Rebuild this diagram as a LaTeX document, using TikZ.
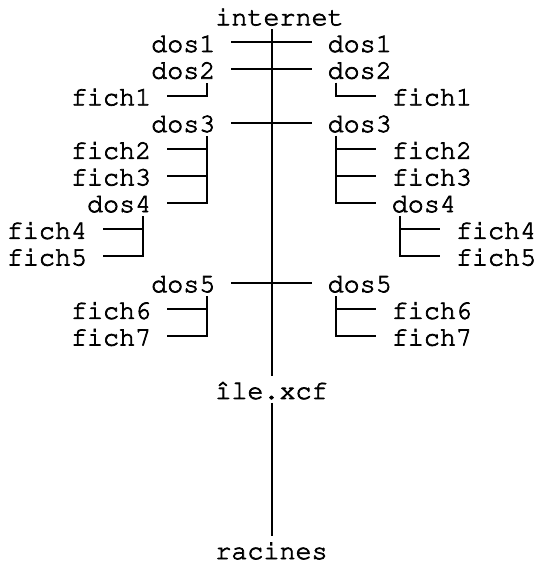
\documentclass[tikz,border=0pt]{standalone}
\usepackage[T1]{fontenc}
\usetikzlibrary{calc}
\newcommand\cl[1]{263.48+16.04*(#1)}
\newcommand\rw[1]{25.3+26.69*(#1)}
\newcommand\treefont{\fontencoding{T1}\fontfamily{pcr}\fontseries{m}\fontshape{n}\fontsize{26.73pt}{26.69pt}\selectfont}
\newcommand\heavy[1]{\special{pdf:literal 2 Tr 0.7 w}#1\special{pdf:literal 0 Tr}}
\tikzset{
  txt/.style={anchor=base west, inner sep=0pt, outer sep=0pt, font=\treefont},
  branch/.style={line width=2pt, line join=miter, black}
}
\begin{document}
\begin{tikzpicture}[x=1pt,y=-1pt]
\useasboundingbox (0,0) rectangle (539,564);
% nodes
\node[txt] (internet) at ({\cl{-3}},{\rw{0}}) {\heavy{internet}};
\node[txt] (dosL1) at ({\cl{-7}},{\rw{1}}) {\heavy{dos1}};
\node[txt] (dosR1) at ({\cl{4}},{\rw{1}}) {\heavy{dos1}};
\node[txt] (dosL2) at ({\cl{-7}},{\rw{2}}) {\heavy{dos2}};
\node[txt] (dosR2) at ({\cl{4}},{\rw{2}}) {\heavy{dos2}};
\node[txt] (fichL1) at ({\cl{-12}},{\rw{3}}) {\heavy{fich1}};
\node[txt] (fichR1) at ({\cl{8}},{\rw{3}}) {\heavy{fich1}};
\node[txt] (dosL3) at ({\cl{-7}},{\rw{4}}) {\heavy{dos3}};
\node[txt] (dosR3) at ({\cl{4}},{\rw{4}}) {\heavy{dos3}};
\node[txt] (fichL2) at ({\cl{-12}},{\rw{5}}) {\heavy{fich2}};
\node[txt] (fichR2) at ({\cl{8}},{\rw{5}}) {\heavy{fich2}};
\node[txt] (fichL3) at ({\cl{-12}},{\rw{6}}) {\heavy{fich3}};
\node[txt] (fichR3) at ({\cl{8}},{\rw{6}}) {\heavy{fich3}};
\node[txt] (dosL4) at ({\cl{-11}},{\rw{7}}) {\heavy{dos4}};
\node[txt] (dosR4) at ({\cl{8}},{\rw{7}}) {\heavy{dos4}};
\node[txt] (fichL4) at ({\cl{-16}},{\rw{8}}) {\heavy{fich4}};
\node[txt] (fichR4) at ({\cl{12}},{\rw{8}}) {\heavy{fich4}};
\node[txt] (fichL5) at ({\cl{-16}},{\rw{9}}) {\heavy{fich5}};
\node[txt] (fichR5) at ({\cl{12}},{\rw{9}}) {\heavy{fich5}};
\node[txt] (dosL5) at ({\cl{-7}},{\rw{10}}) {\heavy{dos5}};
\node[txt] (dosR5) at ({\cl{4}},{\rw{10}}) {\heavy{dos5}};
\node[txt] (fichL6) at ({\cl{-12}},{\rw{11}}) {\heavy{fich6}};
\node[txt] (fichR6) at ({\cl{8}},{\rw{11}}) {\heavy{fich6}};
\node[txt] (fichL7) at ({\cl{-12}},{\rw{12}}) {\heavy{fich7}};
\node[txt] (fichR7) at ({\cl{8}},{\rw{12}}) {\heavy{fich7}};
\node[txt] (ile) at ({\cl{-3}},{\rw{14}}) {\heavy{île.xcf}};
\node[txt] (racines) at ({\cl{-3}},{\rw{20}}) {\heavy{racines}};
% spine
\draw[branch] ($(internet.base west)+(56.14,3.85)$) -- ($(ile.base west)+(56.14,-22.85)$);
\draw[branch] ($(ile.base west)+(56.14,3.85)$) -- ($(racines.base west)+(56.14,-22.85)$);
% central crossings
\foreach \n in {1,2,3,5}{
  \draw[branch] ($(dosL\n.base east)+(16.04,-9.5)$) -- ($(dosR\n.base west)+(-16.04,-9.5)$);
}
% left branches
\foreach \p/\c in {dosL2/fichL1, dosL3/fichL2, dosL3/fichL3, dosL3/dosL4, dosL4/fichL4, dosL4/fichL5, dosL5/fichL6, dosL5/fichL7}{
  \draw[branch] ($(\c.base east)+(16.04,-9.5)$) -| ($(\p.base east)+(-8.02,3.85)$);
}
% right branches
\foreach \p/\c in {dosR2/fichR1, dosR3/fichR2, dosR3/fichR3, dosR3/dosR4, dosR4/fichR4, dosR4/fichR5, dosR5/fichR6, dosR5/fichR7}{
  \draw[branch] ($(\p.base west)+(8.02,3.85)$) |- ($(\c.base west)+(-16.04,-9.5)$);
}
\end{tikzpicture}
\end{document}
